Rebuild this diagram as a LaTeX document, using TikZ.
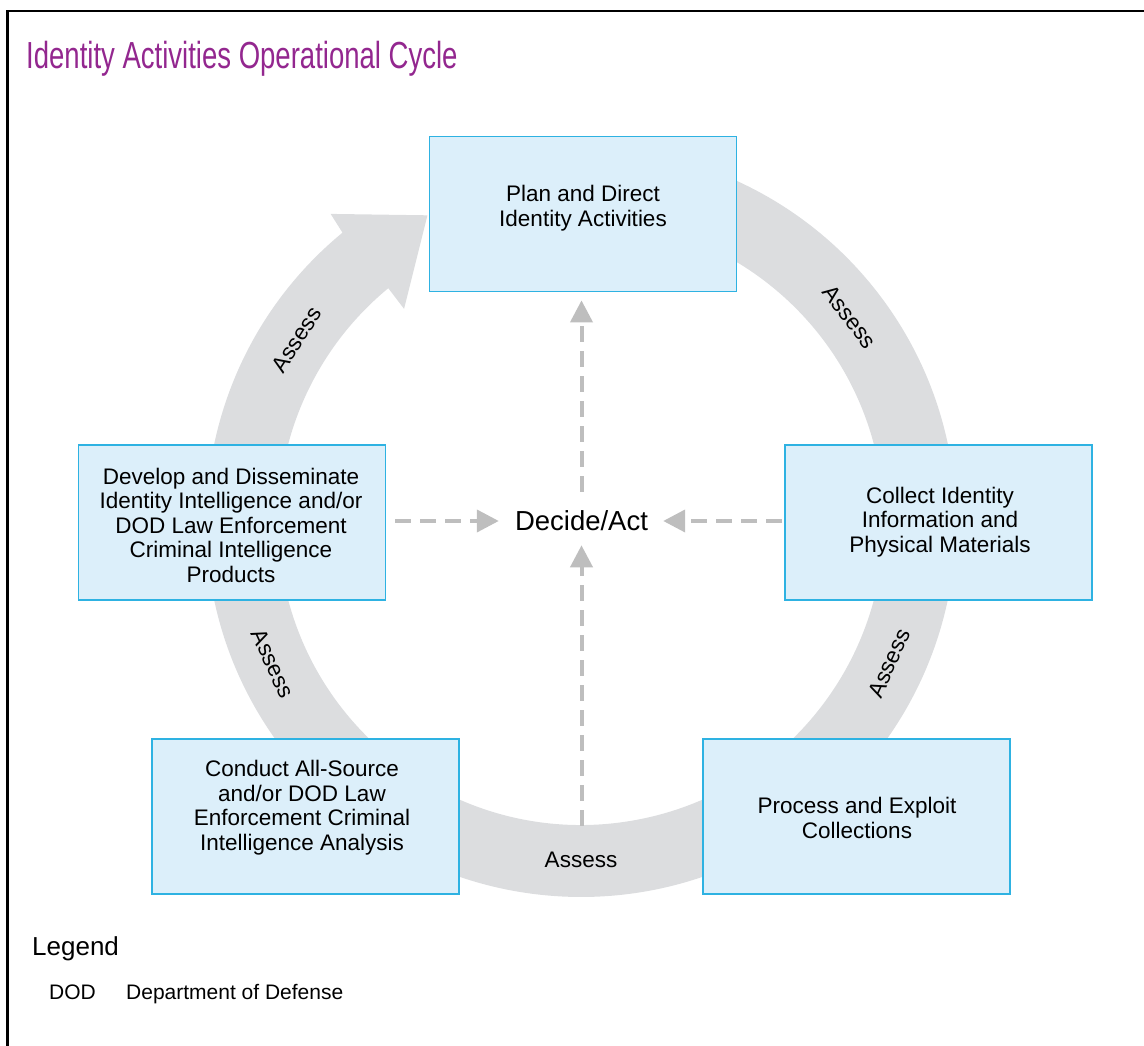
\documentclass[tikz,border=0pt]{standalone}
\usepackage{fontspec}
\setmainfont{Liberation Sans}
\newfontfamily\titlefont[FakeStretch=0.73]{Liberation Sans}
\usetikzlibrary{arrows.meta,calc}
\definecolor{boxfill}{HTML}{DCEFFA}
\definecolor{boxline}{HTML}{2EB2E2}
\definecolor{ringgray}{HTML}{DCDDDF}
\definecolor{dashgray}{HTML}{BEBEBE}
\definecolor{titlepurple}{HTML}{93278F}
\tikzset{
  stagebox/.style={draw=boxline, fill=boxfill, line width=1.8pt, minimum width=307pt, minimum height=155pt, inner sep=0pt},
  stagetext/.style={align=center, font=\fontsize{22.5}{24.5}\selectfont, inner sep=0pt},
  assesslabel/.style={font=\fontsize{22.5}{24.5}\selectfont, inner sep=0pt},
  dasharrow/.style={draw=dashgray, line width=4pt, dash pattern=on 16pt off 9pt, -{Triangle[length=22pt,width=22pt]}},
  framestyle/.style={draw=black, line width=2.5pt},
}
\begin{document}
\begin{tikzpicture}[x=1pt,y=1pt]
\useasboundingbox (0,0) rectangle (1144,1046);
\draw[framestyle] (7.5,0) -- (7.5,1035) -- (1144,1035);
\node[anchor=base west, text=titlepurple, font=\titlefont\fontsize{37.7}{40}\selectfont, inner sep=0pt] (title) at (26,977) {Identity Activities Operational Cycle};

\coordinate (C) at (581,524);
\fill[ringgray] ($(C)+(129.5:303)$) -- ($(C)+(129.7:277)$) -- ($(C)+(116.6:343)$) -- ($(C)+(129.1:397)$) -- ($(C)+(129.5:375)$) arc[start angle=129.5, end angle=460, radius=375] -- ($(C)+(100:303)$) arc[start angle=100, end angle=-230.5, radius=303] -- cycle;

\node[stagebox] (plan) at (583,832) {};
\node[stagebox] (collect) at (938.5,523.5) {};
\node[stagebox] (develop) at (232,523.5) {};
\node[stagebox] (conduct) at (305.5,229.5) {};
\node[stagebox] (process) at (856.5,229.5) {};

\node[stagetext] (plantext) at (583,838) {Plan and Direct\\Identity Activities};
\node[stagetext] (collecttext) at (940,524) {Collect Identity\\Information and\\Physical Materials};
\node[stagetext] (developtext) at (231,521) {Develop and Disseminate\\Identity Intelligence and/or\\DOD Law Enforcement\\Criminal Intelligence\\Products};
\node[stagetext] (conducttext) at (302,238.5) {Conduct All-Source\\and/or DOD Law\\Enforcement Criminal\\Intelligence Analysis};
\node[stagetext] (processtext) at (857,228) {Process and Exploit\\Collections};

\node[font=\fontsize{27.5}{30}\selectfont, inner sep=0pt] (decide) at (581.5,525) {Decide/Act};

\draw[dasharrow, shorten <=9pt, shorten >=16pt] (develop.east |- decide.west) -- (decide.west);
\draw[dasharrow, shorten <=2pt, shorten >=15pt] (collect.west |- decide.east) -- (decide.east);
\draw[dasharrow, shorten <=19pt, shorten >=8pt] (decide.north) -- (decide.north |- plan.south);
\coordinate (ringbottom) at (581.5,220);
\draw[dasharrow, shorten >=14pt] (ringbottom) -- (decide.south);

\node[assesslabel, rotate=57.4] (assess1) at ($(C)+(147.4:338)$) {Assess};
\node[assesslabel, rotate=-52.7] (assess2) at ($(C)+(37.3:338)$) {Assess};
\node[assesslabel, rotate=65.4] (assess3) at ($(C)+(-24.6:339)$) {Assess};
\node[assesslabel] (assess4) at ($(C)+(-90:338)$) {Assess};
\node[assesslabel, rotate=-65.3] (assess5) at ($(C)+(204.7:339)$) {Assess};

\node[anchor=base west, font=\fontsize{26}{28}\selectfont, inner sep=0pt] (legend) at (32,90) {Legend};
\node[anchor=base west, font=\fontsize{21}{24}\selectfont, inner sep=0pt] (dod) at (49,46) {DOD};
\node[anchor=base west, font=\fontsize{21}{24}\selectfont, inner sep=0pt] (dodtext) at (126,46) {Department of Defense};
\end{tikzpicture}
\end{document}
